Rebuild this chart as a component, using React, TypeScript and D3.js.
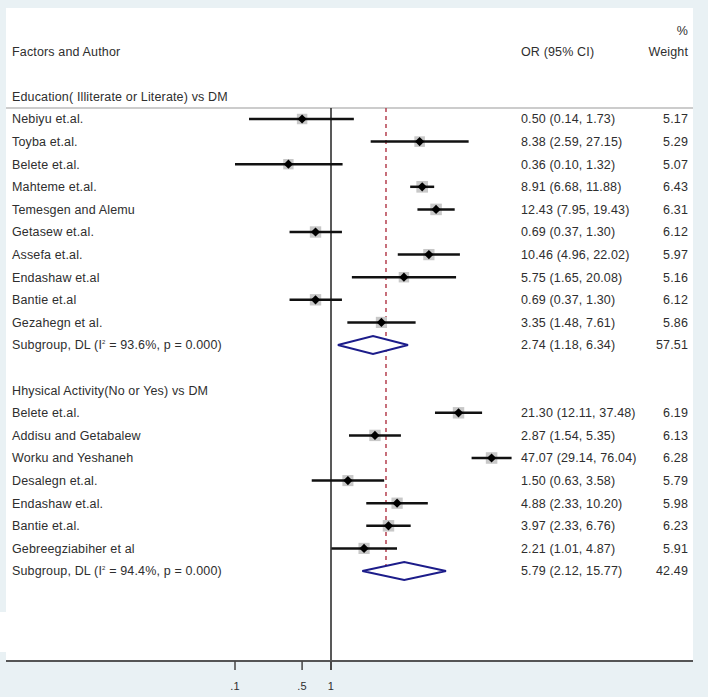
import React from "react";
import * as d3 from "d3";

const group1Label = "Education( Illiterate or Literate) vs DM";
const group1Authors = ["Nebiyu et.al.", "Toyba et.al.", "Belete et.al.", "Mahteme et.al.", "Temesgen and Alemu", "Getasew et.al.", "Assefa et.al.", "Endashaw et.al", "Bantie et.al", "Gezahegn et al."];
const group1OR = [0.5, 8.38, 0.36, 8.91, 12.43, 0.69, 10.46, 5.75, 0.69, 3.35];
const group1Lo = [0.14, 2.59, 0.1, 6.68, 7.95, 0.37, 4.96, 1.65, 0.37, 1.48];
const group1Hi = [1.73, 27.15, 1.32, 11.88, 19.43, 1.3, 22.02, 20.08, 1.3, 7.61];
const group1W = [5.17, 5.29, 5.07, 6.43, 6.31, 6.12, 5.97, 5.16, 6.12, 5.86];
const group1Sub = { or: 2.74, lo: 1.18, hi: 6.34, w: 57.51, i2: "93.6%", p: "0.000" };

const group2Label = "Hhysical Activity(No or Yes) vs DM";
const group2Authors = ["Belete et.al.", "Addisu and Getabalew", "Worku and Yeshaneh", "Desalegn et.al.", "Endashaw et.al.", "Bantie et.al.", "Gebreegziabiher et al"];
const group2OR = [21.3, 2.87, 47.07, 1.5, 4.88, 3.97, 2.21];
const group2Lo = [12.11, 1.54, 29.14, 0.63, 2.33, 2.33, 1.01];
const group2Hi = [37.48, 5.35, 76.04, 3.58, 10.2, 6.76, 4.87];
const group2W = [6.19, 6.13, 6.28, 5.79, 5.98, 6.23, 5.91];
const group2Sub = { or: 5.79, lo: 2.12, hi: 15.77, w: 42.49, i2: "94.4%", p: "0.000" };

const overallOR = 3.74;
const tickValues = [0.1, 0.5, 1];
const tickLabels = [".1", ".5", "1"];

type Row =
  | { kind: "header"; label: string }
  | { kind: "study"; label: string; or: number; lo: number; hi: number; w: number }
  | { kind: "sub"; or: number; lo: number; hi: number; w: number; i2: string; p: string }
  | { kind: "blank" };

function buildRows(): Row[] {
  const rows: Row[] = [];
  rows.push({ kind: "header", label: group1Label });
  group1Authors.forEach((a, i) => rows.push({ kind: "study", label: a, or: group1OR[i], lo: group1Lo[i], hi: group1Hi[i], w: group1W[i] }));
  rows.push({ kind: "sub", ...group1Sub });
  rows.push({ kind: "blank" });
  rows.push({ kind: "header", label: group2Label });
  group2Authors.forEach((a, i) => rows.push({ kind: "study", label: a, or: group2OR[i], lo: group2Lo[i], hi: group2Hi[i], w: group2W[i] }));
  rows.push({ kind: "sub", ...group2Sub });
  return rows;
}

const fmt = d3.format(".2f");

export default function App() {
  const W = 708, H = 697;
  const rows = buildRows();
  const x = d3.scaleLog().domain([0.1, 100]).range([235, 235 + 96 * 3]);
  const y = d3.scaleLinear().domain([0, rows.length - 1]).range([96.4, 96.4 + 22.6 * (rows.length - 1)]);
  const font = "Liberation Sans, Arial, sans-serif";
  const txt = "#2e2e2e";
  const axisY = 661;
  const orX = 521;
  const wX = 688;
  const m = 4.6;
  const markerPath = `M0,${-m}L${m},0L0,${m}L${-m},0Z`;

  return (
    <svg width={W} height={H} style={{ position: "absolute", left: 0, top: 0 }} fontFamily={font} fontSize={12.5} letterSpacing={0.15}>
      <rect x={0} y={0} width={W} height={H} fill="#e9f1f4" />
      <rect x={6} y={8} width={687} height={axisY - 8} fill="#ffffff" />
      <rect x={0} y={612} width={8} height={40} fill="#ffffff" />
      {/* header */}
      <text x={12} y={52} dy="0.35em" fill={txt}>Factors and Author</text>
      <text x={orX} y={52} dy="0.35em" fill={txt}>OR (95% CI)</text>
      <text x={wX} y={31} dy="0.35em" fill={txt} textAnchor="end">%</text>
      <text x={wX} y={52} dy="0.35em" fill={txt} textAnchor="end">Weight</text>
      <line x1={6} x2={693} y1={108} y2={108} stroke="#cccccc" strokeWidth={2} />
      {/* null line */}
      <line x1={x(1)} x2={x(1)} y1={108} y2={axisY + 9} stroke="#222" strokeWidth={1.5} />
      {/* overall dashed */}
      <line x1={x(overallOR)} x2={x(overallOR)} y1={108} y2={580} stroke="#b5404f" strokeWidth={1.5} strokeDasharray="4,4" />
      {rows.map((r, i) => {
        const yy = y(i);
        if (r.kind === "blank") return null;
        if (r.kind === "header") {
          return <text key={i} x={12} y={yy} dy="0.35em" fill={txt}>{r.label}</text>;
        }
        if (r.kind === "study") {
          const s = 4.6 * Math.sqrt(r.w);
          return (
            <g key={i}>
              <text x={12} y={yy} dy="0.35em" fill={txt}>{r.label}</text>
              <rect x={x(r.or) - s / 2} y={yy - s / 2} width={s} height={s} fill="#c8c8c8" />
              <line x1={x(r.lo)} x2={x(r.hi)} y1={yy} y2={yy} stroke="#111" strokeWidth={2.5} />
              <path d={markerPath} transform={`translate(${x(r.or)},${yy})`} fill="#000" />
              <text x={orX} y={yy} dy="0.35em" fill={txt}>{`${fmt(r.or)} (${fmt(r.lo)}, ${fmt(r.hi)})`}</text>
              <text x={wX} y={yy} dy="0.35em" fill={txt} textAnchor="end">{fmt(r.w)}</text>
            </g>
          );
        }
        const pts: [number, number][] = [
          [x(r.lo), yy],
          [x(r.or), yy - 9],
          [x(r.hi), yy],
          [x(r.or), yy + 9],
        ];
        return (
          <g key={i}>
            <text x={12} y={yy} dy="0.35em" fill={txt}>
              Subgroup, DL (I<tspan fontSize={6} dy="-5">2</tspan>
              <tspan dy="5">{` = ${r.i2}, p = ${r.p})`}</tspan>
            </text>
            <path d={`M${pts.map((p) => p.join(",")).join("L")}Z`} fill="#fff" stroke="#1c1c8a" strokeWidth={2} />
            <text x={orX} y={yy} dy="0.35em" fill={txt}>{`${fmt(r.or)} (${fmt(r.lo)}, ${fmt(r.hi)})`}</text>
            <text x={wX} y={yy} dy="0.35em" fill={txt} textAnchor="end">{fmt(r.w)}</text>
          </g>
        );
      })}
      {/* axis */}
      <line x1={6} x2={693} y1={axisY} y2={axisY} stroke="#555" strokeWidth={2} />
      {tickValues.map((t, i) => (
        <g key={t}>
          <line x1={x(t)} x2={x(t)} y1={axisY} y2={axisY + 9} stroke="#444" strokeWidth={1.5} />
          <text x={x(t)} y={686} dy="0.35em" textAnchor="middle" fill={txt} fontSize={11}>{tickLabels[i]}</text>
        </g>
      ))}
    </svg>
  );
}
